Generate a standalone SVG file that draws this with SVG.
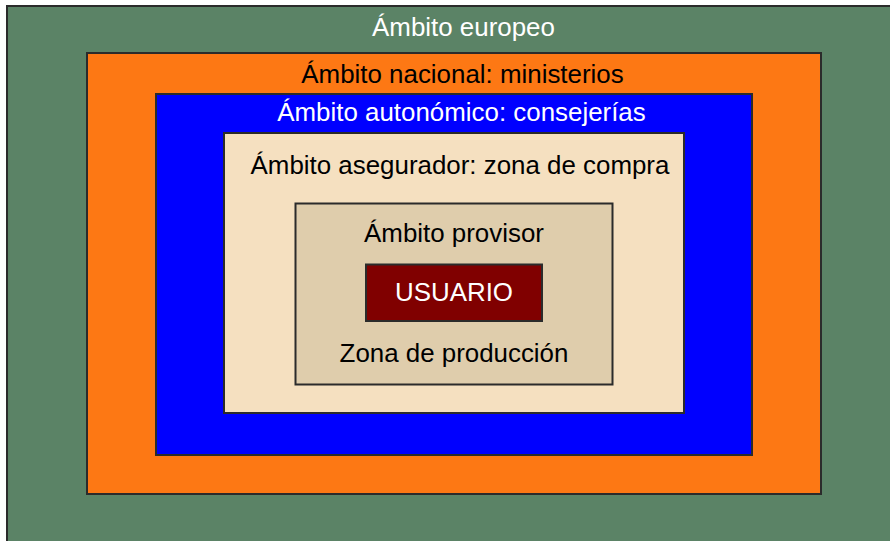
<svg xmlns="http://www.w3.org/2000/svg" width="890" height="541" viewBox="0 0 890 541">
<style>
.box{stroke:#2b2b2b;stroke-width:2}
.t{font-family:"Liberation Sans",Arial,sans-serif;font-size:25.9px;text-anchor:middle}
.w{fill:#ffffff}
.k{fill:#000000}
</style>
<rect x="0" y="0" width="890" height="541" fill="#ffffff"/>
<g id="europeo">
<rect class="box" x="7" y="6" width="892" height="545" fill="#5b8366"/>
<text class="t w" x="463.5" y="36">Ámbito europeo</text>
</g>
<g id="nacional">
<rect class="box" x="87" y="53" width="734" height="441" fill="#fd7814"/>
<text class="t k" x="462.5" y="82.5">Ámbito nacional: ministerios</text>
</g>
<g id="autonomico">
<rect class="box" x="156" y="94" width="596" height="361" fill="#0000ff"/>
<text class="t w" x="461.5" y="121">Ámbito autonómico: consejerías</text>
</g>
<g id="asegurador">
<rect class="box" x="224" y="133" width="460" height="280" fill="#f5e0c0"/>
<text class="t k" x="460" y="174">Ámbito asegurador: zona de compra</text>
</g>
<g id="provisor">
<rect class="box" x="295.5" y="203.5" width="317" height="181" fill="#dfcdac"/>
<text class="t k" x="454" y="242">Ámbito provisor</text>
<text class="t k" x="454" y="361.5">Zona de producción</text>
</g>
<g id="usuario">
<rect class="box" x="366" y="264.5" width="176" height="56.5" fill="#800000"/>
<text class="t w" x="454" y="301">USUARIO</text>
</g>
<g id="connectors"></g>
</svg>
